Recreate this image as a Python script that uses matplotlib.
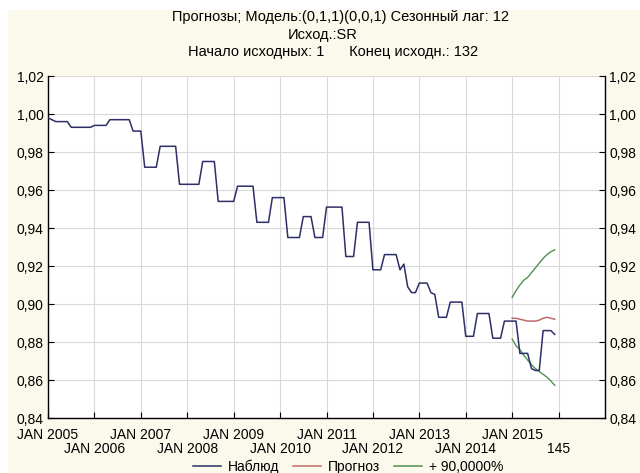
import matplotlib
matplotlib.use("Agg")
import matplotlib.pyplot as plt
from matplotlib.patches import Rectangle
from matplotlib.lines import Line2D

plt.rcParams['font.family'] = ['Liberation Sans', 'DejaVu Sans']

# Observation numbers 13..144 (Jan 2005 .. Dec 2015)
obs_start = 13
observed = [
    0.998, 0.997, 0.996, 0.996, 0.996, 0.996, 0.993, 0.993, 0.993, 0.993, 0.993, 0.993,
    0.994, 0.994, 0.994, 0.994, 0.997, 0.997, 0.997, 0.997, 0.997, 0.997, 0.991, 0.991,
    0.991, 0.972, 0.972, 0.972, 0.972, 0.983, 0.983, 0.983, 0.983, 0.983, 0.963, 0.963,
    0.963, 0.963, 0.963, 0.963, 0.975, 0.975, 0.975, 0.975, 0.954, 0.954, 0.954, 0.954,
    0.954, 0.962, 0.962, 0.962, 0.962, 0.962, 0.943, 0.943, 0.943, 0.943, 0.956, 0.956,
    0.956, 0.956, 0.935, 0.935, 0.935, 0.935, 0.946, 0.946, 0.946, 0.935, 0.935, 0.935,
    0.951, 0.951, 0.951, 0.951, 0.951, 0.925, 0.925, 0.925, 0.943, 0.943, 0.943, 0.943,
    0.918, 0.918, 0.918, 0.926, 0.926, 0.926, 0.926, 0.918, 0.921, 0.909, 0.906, 0.906,
    0.911, 0.911, 0.911, 0.906, 0.905, 0.893, 0.893, 0.893, 0.901, 0.901, 0.901, 0.901,
    0.883, 0.883, 0.883, 0.895, 0.895, 0.895, 0.895, 0.882, 0.882, 0.882, 0.891, 0.891,
    0.891, 0.891, 0.874, 0.874, 0.874, 0.866, 0.865, 0.865, 0.886, 0.886, 0.886, 0.884,
]

# Forecast for observations 133..144 with 90% limits
fc_start = 133
forecast = [0.8925, 0.8925, 0.892, 0.8915, 0.891, 0.891, 0.891, 0.8915, 0.8925, 0.893, 0.8925, 0.892]
upper90 = [0.9035, 0.907, 0.910, 0.9125, 0.914, 0.9165, 0.919, 0.9215, 0.924, 0.926, 0.9275, 0.9285]
lower90 = [0.8815, 0.878, 0.876, 0.873, 0.8705, 0.868, 0.866, 0.8645, 0.863, 0.8615, 0.8595, 0.8572]

# Year ticks: first row (odd years) and second row (even years)
tick_pos_row1 = [13, 37, 61, 85, 109, 133]
tick_text_row1 = ["JAN 2005", "JAN 2007", "JAN 2009", "JAN 2011", "JAN 2013", "JAN 2015"]
tick_pos_row2 = [25, 49, 73, 97, 121, 145]
tick_text_row2 = ["JAN 2006", "JAN 2008", "JAN 2010", "JAN 2012", "JAN 2014", "145"]
y_ticks = [0.84, 0.86, 0.88, 0.90, 0.92, 0.94, 0.96, 0.98, 1.00, 1.02]

title_lines = ["Прогнозы; Модель:(0,1,1)(0,0,1) Сезонный лаг: 12",
               "Исход.:SR",
               "Начало исходных: 1      Конец исходн.: 132"]
legend_labels = ["Наблюд", "Прогноз", "+ 90,0000%"]

c_obs = "#2e2e68"
c_fc = "#c06a6a"
c_ci = "#4f914f"
cream = "#fbf8ec"

W, H = 640, 473
fig = plt.figure(figsize=(W / 100, H / 100), dpi=100)
fig.patch.set_facecolor("white")
fig.patches.append(Rectangle((8 / W, 0), 1, 1 - 10 / H, transform=fig.transFigure,
                             facecolor=cream, edgecolor="none", zorder=-10))

ax = fig.add_axes([48 / W, 1 - 418 / H, (605 - 48) / W, (418 - 76) / H])
ax.set_facecolor("white")

x_obs = list(range(obs_start, obs_start + len(observed)))
x_fc = list(range(fc_start, fc_start + len(forecast)))

ax.plot(x_obs, observed, color=c_obs, lw=1.1, zorder=3)
ax.plot(x_fc, forecast, color=c_fc, lw=1.1, zorder=2)
ax.plot(x_fc, upper90, color=c_ci, lw=1.0, zorder=2)
ax.plot(x_fc, lower90, color=c_ci, lw=1.0, zorder=2)

ax.set_xlim(13, 157)
ax.set_ylim(0.84, 1.02)

ax.set_yticks(y_ticks)
ax.set_yticklabels([f"{v:.2f}".replace(".", ",") for v in y_ticks])
ax.set_xticks(tick_pos_row1)
ax.set_xticklabels(tick_text_row1)
ax.set_xticks(tick_pos_row2, minor=True)
ax.set_xticklabels(tick_text_row2, minor=True)

ax.grid(True, which="both", axis="x", color="#d9d9d9", lw=0.8, zorder=0)
ax.grid(True, which="major", axis="y", color="#d9d9d9", lw=0.8, zorder=0)
ax.tick_params(axis="both", which="both", direction="in", length=4, width=0.8,
               labelsize=10, colors="black")
ax.tick_params(axis="y", right=True, labelright=True, pad=3)
ax.tick_params(axis="x", which="major", pad=7)
ax.tick_params(axis="x", which="minor", pad=17.5)
for side in ["left", "bottom", "right"]:
    ax.spines[side].set_color("black")
    ax.spines[side].set_linewidth(1.0)
ax.spines["top"].set_visible(False)

for txt, yc, xc in zip(title_lines, [17, 35, 52], [341, 323, 333]):
    fig.text(xc / W, 1 - yc / H, txt, ha="center", va="center", fontsize=10.5)

handles = [Line2D([], [], color=c, lw=1.1) for c in (c_obs, c_fc, c_ci)]
fig.legend(handles, legend_labels, loc="center", bbox_to_anchor=(348 / W, 1 - 467 / H),
           ncol=3, frameon=False, fontsize=10, handlelength=2.0, handletextpad=0.5,
           columnspacing=1.0)

fig.savefig("out.png", dpi=100, facecolor=fig.get_facecolor())
